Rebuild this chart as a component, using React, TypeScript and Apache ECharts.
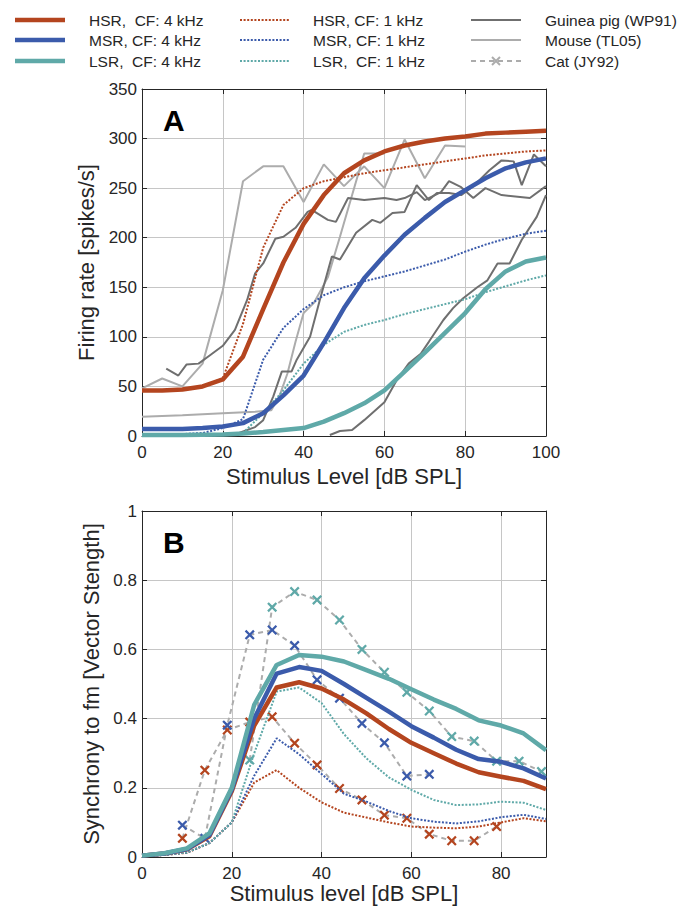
import React, { useEffect, useRef } from "react";
import * as echarts from "echarts";

const RED = "#b4451f";
const BLUE = "#3b5bab";
const TEAL = "#5fa9a8";
const DGREY = "#6f6f6f";
const LGREY = "#acacac";
const AXIS = "#262626";
const GRID = "#c6c6c6";
const FONT = "'Liberation Sans', Arial, Helvetica, sans-serif";

// ---------- Panel A: rate-level functions (model, 5 dB steps) ----------
const levelsA = [0, 5, 10, 15, 20, 25, 30, 35, 40, 45, 50, 55, 60, 65, 70, 75, 80, 85, 90, 95, 100];
const rateHSR4 = [46, 46, 47, 50, 57, 80, 128, 175, 214, 243, 265, 278, 287, 293, 297, 300, 302, 305, 306, 307, 308];
const rateMSR4 = [7, 7, 7, 8, 9.5, 13, 23, 41, 61, 94, 129, 159, 182, 203, 220, 236, 248, 260, 270, 276, 280];
const rateLSR4 = [1, 1, 1, 1.2, 1.5, 2.5, 4, 6, 8, 14.5, 23, 33, 46, 65, 84, 104, 124, 148, 166, 176, 180];
const rateHSR1 = [46, 46, 47, 50, 58, 113, 190, 233, 250, 257, 261, 265, 268, 271, 274, 277, 280, 283, 285, 287, 288];
const rateMSR1 = [2, 2, 2, 3, 8, 17, 77, 109, 128, 142, 150, 156, 161, 166, 172, 178, 186, 193, 199, 204, 207];
const rateLSR1 = [0.5, 0.5, 0.5, 0.7, 1, 3, 23, 46, 73, 92, 105, 112, 117, 123, 128, 133, 138, 145, 151, 157, 162];

// Guinea pig (WP91) measured curves [level, rate]
const gp1: number[][] = [[6, 68], [9, 61], [11, 72], [14, 73], [17, 82], [20, 91], [23, 107], [26, 137], [28, 164], [30, 174], [33, 199], [35, 201], [38, 210], [41, 226], [42, 228], [46, 218], [48, 216], [51, 240], [55, 238], [60, 240], [63, 238], [65, 240], [68, 246], [70, 238], [74, 246], [76, 257], [79, 251], [82, 240], [85, 250], [89, 243], [96, 240], [100, 252]];
const gp2: number[][] = [[20, 2], [24, 3], [28, 9], [30, 16], [32.5, 40], [34.6, 65], [37, 65], [38.3, 77], [41.6, 100], [44, 137], [47, 181], [49, 178], [53, 205], [57, 218], [59, 215], [62, 225], [65, 226], [68, 253], [71, 238], [73, 245], [76, 245], [79, 243], [82, 252], [86, 268], [89, 278], [92, 277], [94, 253], [97, 284], [100, 272]];
const gp3: number[][] = [[46.5, 1], [49, 5], [52, 6], [55, 16], [60, 34], [63, 56], [66, 73], [69, 83], [71, 95], [74.6, 117], [77, 129], [79.5, 139], [83, 150], [85.5, 157], [88, 174], [91, 174], [94, 198], [97.7, 221], [100, 243]];
// Mouse (TL05) measured curves
const mouse1: number[][] = [[0, 48], [5, 58], [10, 50], [15, 73], [20, 147], [25, 257], [30, 272], [35, 272], [40, 236], [45, 274], [50, 252], [55, 272], [60, 250], [65, 299], [70, 260], [75, 293], [80, 292]];
const mouse2: number[][] = [[0, 19.5], [10, 21], [20, 23], [28, 24.5], [32, 26], [34, 40], [36, 63], [38, 95], [40, 124], [42.5, 134], [46, 160], [49, 201], [55, 285], [60, 285]];

// ---------- Panel B: synchrony to fm ----------
const levelsB = [0, 5, 10, 15, 20, 25, 30, 35, 40, 45, 50, 55, 60, 65, 70, 75, 80, 85, 90];
const syncHSR4 = [0.004, 0.01, 0.022, 0.06, 0.19, 0.38, 0.49, 0.505, 0.487, 0.455, 0.415, 0.37, 0.33, 0.3, 0.27, 0.245, 0.232, 0.22, 0.196];
const syncMSR4 = [0.004, 0.01, 0.023, 0.063, 0.195, 0.4, 0.53, 0.549, 0.538, 0.5, 0.46, 0.42, 0.378, 0.345, 0.31, 0.283, 0.275, 0.256, 0.227];
const syncLSR4 = [0.004, 0.011, 0.025, 0.068, 0.2, 0.44, 0.555, 0.584, 0.579, 0.565, 0.54, 0.515, 0.485, 0.455, 0.428, 0.395, 0.38, 0.357, 0.309];
const syncHSR1 = [0.003, 0.006, 0.012, 0.04, 0.1, 0.215, 0.251, 0.2, 0.158, 0.128, 0.114, 0.1, 0.088, 0.085, 0.083, 0.088, 0.1, 0.112, 0.103];
const syncMSR1 = [0.003, 0.006, 0.013, 0.04, 0.1, 0.235, 0.343, 0.297, 0.24, 0.183, 0.16, 0.133, 0.112, 0.102, 0.097, 0.103, 0.115, 0.122, 0.11];
const syncLSR1 = [0.003, 0.006, 0.013, 0.04, 0.1, 0.3, 0.478, 0.49, 0.445, 0.355, 0.285, 0.23, 0.194, 0.165, 0.15, 0.152, 0.16, 0.157, 0.136];

// Cat (JY92)
const catHSRLevels = [9, 14, 19, 24, 29, 34, 39, 44, 49, 54, 59, 64, 69, 74, 79];
const catHSR = [0.054, 0.251, 0.367, 0.39, 0.405, 0.329, 0.266, 0.198, 0.165, 0.121, 0.112, 0.066, 0.047, 0.047, 0.088];
const catMSRLevels = [9, 14, 19, 24, 29, 34, 39, 44, 49, 54, 59, 64];
const catMSR = [0.092, 0.054, 0.381, 0.642, 0.656, 0.611, 0.512, 0.459, 0.386, 0.33, 0.234, 0.239];
const catLSRLevels = [24, 29, 34, 39, 44, 49, 54, 59, 64, 69, 74, 79, 84, 89];
const catLSR = [0.28, 0.722, 0.767, 0.743, 0.685, 0.6, 0.534, 0.476, 0.422, 0.348, 0.335, 0.277, 0.277, 0.247];

const legendRows = [
  { col: 0, row: 0, label: "HSR,  CF: 4 kHz", kind: "thick", color: RED },
  { col: 0, row: 1, label: "MSR, CF: 4 kHz", kind: "thick", color: BLUE },
  { col: 0, row: 2, label: "LSR,  CF: 4 kHz", kind: "thick", color: TEAL },
  { col: 1, row: 0, label: "HSR, CF: 1 kHz", kind: "dot", color: RED },
  { col: 1, row: 1, label: "MSR, CF: 1 kHz", kind: "dot", color: BLUE },
  { col: 1, row: 2, label: "LSR,  CF: 1 kHz", kind: "dot", color: TEAL },
  { col: 2, row: 0, label: "Guinea pig (WP91)", kind: "solid", color: DGREY },
  { col: 2, row: 1, label: "Mouse (TL05)", kind: "solid", color: LGREY },
  { col: 2, row: 2, label: "Cat (JY92)", kind: "cat", color: LGREY },
];

const CROSS = "path://M1.6,0 L5,3.4 L8.4,0 L10,1.6 L6.6,5 L10,8.4 L8.4,10 L5,6.6 L1.6,10 L0,8.4 L3.4,5 L0,1.6 Z";

const zip = (xs: number[], ys: number[]) => xs.map((x, i) => [x, ys[i]]);

export default function App() {
  const ref = useRef<HTMLDivElement>(null);
  useEffect(() => {
    if (!ref.current) return;
    const chart = echarts.init(ref.current, undefined, { renderer: "svg" });

    const lineCommon = { type: "line", showSymbol: false, symbol: "none", smooth: false, silent: true };
    const thick = (name: string, data: number[][], color: string, idx: number) => ({
      ...lineCommon, name, data, xAxisIndex: idx, yAxisIndex: idx, z: 5,
      lineStyle: { color, width: 4.5, cap: "butt", join: "round" },
    });
    const dotted = (name: string, data: number[][], color: string, idx: number) => ({
      ...lineCommon, name, data, xAxisIndex: idx, yAxisIndex: idx, z: 4,
      lineStyle: { color, width: 2, type: [2, 1.6], cap: "butt" },
    });
    const grey = (name: string, data: number[][], color: string) => ({
      ...lineCommon, name, data, xAxisIndex: 0, yAxisIndex: 0, z: 3,
      lineStyle: { color, width: 2 },
    });
    const cat = (name: string, data: number[][], color: string) => ({
      type: "line", name, data, xAxisIndex: 1, yAxisIndex: 1, z: 3, silent: true,
      showSymbol: true, symbol: CROSS, symbolSize: 10,
      itemStyle: { color },
      lineStyle: { color: LGREY, width: 2, type: [5, 4] },
    });

    const axisLabel = { fontSize: 17, color: AXIS, fontFamily: FONT };
    const nameStyle = { fontSize: 22, color: AXIS, fontFamily: FONT };
    const mainX = (gi: number, max: number, name: string, gap: number) => ({
      type: "value", gridIndex: gi, min: 0, max, interval: 20, position: "bottom",
      axisLine: { show: true, onZero: false, lineStyle: { color: AXIS, width: 1 } },
      axisTick: { show: true, inside: true, length: 5, lineStyle: { color: AXIS } },
      axisLabel: { ...axisLabel, margin: 8, showMaxLabel: max % 20 === 0 },
      splitLine: { show: true, lineStyle: { color: GRID, width: 1 } },
      name, nameLocation: "middle", nameGap: gap, nameTextStyle: nameStyle,
    });
    const topX = (gi: number, max: number) => ({
      type: "value", gridIndex: gi, min: 0, max, interval: 20, position: "top",
      axisLine: { show: true, onZero: false, lineStyle: { color: AXIS, width: 1 } },
      axisTick: { show: true, inside: true, length: 5, lineStyle: { color: AXIS } },
      axisLabel: { show: false }, splitLine: { show: false },
    });
    const mainY = (gi: number, max: number, interval: number, name: string, gap: number) => ({
      type: "value", gridIndex: gi, min: 0, max, interval, position: "left",
      axisLine: { show: true, onZero: false, lineStyle: { color: AXIS, width: 1 } },
      axisTick: { show: true, inside: true, length: 5, lineStyle: { color: AXIS } },
      axisLabel: { ...axisLabel, margin: 5 },
      splitLine: { show: true, lineStyle: { color: GRID, width: 1 } },
      name, nameLocation: "middle", nameGap: gap, nameRotate: 90, nameTextStyle: nameStyle,
    });
    const rightY = (gi: number, max: number, interval: number) => ({
      type: "value", gridIndex: gi, min: 0, max, interval, position: "right",
      axisLine: { show: true, onZero: false, lineStyle: { color: AXIS, width: 1 } },
      axisTick: { show: true, inside: true, length: 5, lineStyle: { color: AXIS } },
      axisLabel: { show: false }, splitLine: { show: false },
    });

    const graphics: any[] = [];
    const colLine = [15, 240, 471];
    const colText = [89, 313, 545];
    const rowY = [20, 40, 61];
    legendRows.forEach((it) => {
      const x1 = colLine[it.col];
      const y = rowY[it.row];
      if (it.kind === "thick") {
        graphics.push({ type: "line", shape: { x1, y1: y, x2: x1 + 50, y2: y }, style: { stroke: it.color, lineWidth: 4.5 } });
      } else if (it.kind === "dot") {
        graphics.push({ type: "line", shape: { x1, y1: y, x2: x1 + 50, y2: y }, style: { stroke: it.color, lineWidth: 2, lineDash: [2, 1.6] } });
      } else if (it.kind === "solid") {
        graphics.push({ type: "line", shape: { x1, y1: y, x2: x1 + 50, y2: y }, style: { stroke: it.color, lineWidth: 2 } });
      } else {
        graphics.push({ type: "line", shape: { x1, y1: y, x2: x1 + 50, y2: y }, style: { stroke: it.color, lineWidth: 2, lineDash: [5, 4] } });
        const cx = x1 + 25;
        graphics.push({ type: "line", shape: { x1: cx - 4, y1: y - 4, x2: cx + 4, y2: y + 4 }, style: { stroke: it.color, lineWidth: 2 } });
        graphics.push({ type: "line", shape: { x1: cx - 4, y1: y + 4, x2: cx + 4, y2: y - 4 }, style: { stroke: it.color, lineWidth: 2 } });
      }
      graphics.push({
        type: "text", x: colText[it.col], y,
        style: { text: it.label, fontSize: 15.5, fontFamily: FONT, fill: AXIS, textVerticalAlign: "middle", textAlign: "left" },
      });
    });
    graphics.push({ type: "text", x: 163, y: 120, z: 10, style: { text: "A", fontSize: 30, fontWeight: "bold", fontFamily: FONT, fill: "#000", textVerticalAlign: "middle" } });
    graphics.push({ type: "text", x: 163, y: 542, z: 10, style: { text: "B", fontSize: 30, fontWeight: "bold", fontFamily: FONT, fill: "#000", textVerticalAlign: "middle" } });

    chart.setOption({
      animation: false,
      backgroundColor: "#fff",
      textStyle: { fontFamily: FONT },
      grid: [
        { left: 142, top: 89, width: 404, height: 347 },
        { left: 142, top: 511, width: 404, height: 346 },
      ],
      xAxis: [
        mainX(0, 100, "Stimulus Level [dB SPL]", 29),
        mainX(1, 90, "Stimulus level [dB SPL]", 22),
        topX(0, 100),
        topX(1, 90),
      ],
      yAxis: [
        mainY(0, 350, 50, "Firing rate [spikes/s]", 29),
        mainY(1, 1, 0.2, "Synchrony to fm [Vector Stength]", 38),
        rightY(0, 350, 50),
        rightY(1, 1, 0.2),
      ],
      graphic: graphics,
      series: [
        grey("Mouse 1", mouse1, LGREY),
        grey("Mouse 2", mouse2, LGREY),
        grey("Guinea pig 1", gp1, DGREY),
        grey("Guinea pig 2", gp2, DGREY),
        grey("Guinea pig 3", gp3, DGREY),
        dotted("HSR 1k", zip(levelsA, rateHSR1), RED, 0),
        dotted("MSR 1k", zip(levelsA, rateMSR1), BLUE, 0),
        dotted("LSR 1k", zip(levelsA, rateLSR1), TEAL, 0),
        thick("HSR 4k", zip(levelsA, rateHSR4), RED, 0),
        thick("MSR 4k", zip(levelsA, rateMSR4), BLUE, 0),
        thick("LSR 4k", zip(levelsA, rateLSR4), TEAL, 0),

        cat("Cat HSR", zip(catHSRLevels, catHSR), RED),
        cat("Cat MSR", zip(catMSRLevels, catMSR), BLUE),
        cat("Cat LSR", zip(catLSRLevels, catLSR), TEAL),
        dotted("B HSR 1k", zip(levelsB, syncHSR1), RED, 1),
        dotted("B MSR 1k", zip(levelsB, syncMSR1), BLUE, 1),
        dotted("B LSR 1k", zip(levelsB, syncLSR1), TEAL, 1),
        thick("B HSR 4k", zip(levelsB, syncHSR4), RED, 1),
        thick("B MSR 4k", zip(levelsB, syncMSR4), BLUE, 1),
        thick("B LSR 4k", zip(levelsB, syncLSR4), TEAL, 1),
      ],
    });
    return () => chart.dispose();
  }, []);
  return <div ref={ref} style={{ width: 690, height: 907, position: "absolute", left: 0, top: 0 }} />;
}
